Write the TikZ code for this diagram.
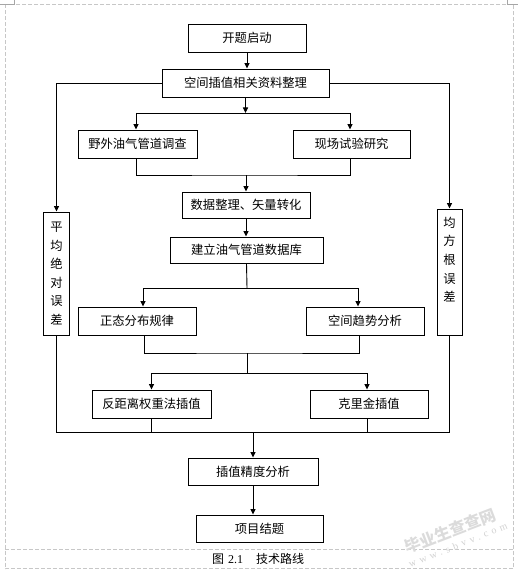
\documentclass[tikz,border=0pt]{standalone}
\usepackage{fontspec}
\setmainfont{Liberation Serif}
\newfontfamily\cjk{Noto Sans CJK SC}
\newfontfamily\wmfont[LetterSpace=40]{Liberation Serif}
\usetikzlibrary{arrows.meta}
\begin{document}
\begin{tikzpicture}[x=1pt,y=-1pt,
  box/.style={draw=black,line width=0.9pt,rectangle,inner sep=0pt,font=\cjk\fontsize{12.3}{14}\selectfont},
  vbox/.style={draw=black,line width=0.9pt,rectangle,inner sep=0pt,align=center,font=\cjk\fontsize{12.3}{18.6}\selectfont},
  vtext/.style={inner sep=0pt,align=center,font=\cjk\fontsize{12.3}{18.7}\selectfont},
  conn/.style={line width=0.9pt},
  arr/.style={line width=0.9pt,-{Triangle[length=5.5pt,width=5pt]}},
  frame/.style={draw=black!22,line width=0.7pt,dash pattern=on 4pt off 2pt},
]
\useasboundingbox (0,0) rectangle (518,575);

% page frame
\draw[frame] (5,4.5) rectangle (513.5,568.5);
\draw[frame] (5,549.5) -- (513.5,549.5);
\draw[black!35,line width=0.7pt] (0,4.5) -- (14,4.5) -- (14,0);
\draw[black!35,line width=0.7pt] (518,4.5) -- (507,4.5) -- (507,0);

% watermark
\node[rotate=21,text=black!14,font=\cjk\bfseries\fontsize{16}{16}\selectfont] (wm1) at (450,531) {毕业生查查网};
\node[rotate=22,text=black!18,font=\wmfont\fontsize{10}{10}\selectfont] (wm2) at (458,545) {www.sbvv.com};

% boxes
\node[box,minimum width=118pt,minimum height=28pt] (start) at (247,38) {开题启动};
\node[box,minimum width=167pt,minimum height=28pt] (org) at (245.5,83) {空间插值相关资料整理};
\node[box,minimum width=119pt,minimum height=28pt] (field) at (137.5,144) {野外油气管道调查};
\node[box,minimum width=117pt,minimum height=28pt] (test) at (351.5,144) {现场试验研究};
\node[box,minimum width=128pt,minimum height=26pt] (data) at (246,205) {数据整理、矢量转化};
\node[box,minimum width=153pt,minimum height=26pt] (db) at (246.5,250) {建立油气管道数据库};
\node[box,minimum width=118pt,minimum height=28pt] (normal) at (137,321) {正态分布规律};
\node[box,minimum width=118pt,minimum height=28pt] (trend) at (365,321) {空间趋势分析};
\node[box,minimum width=119pt,minimum height=28pt] (idw) at (151.5,404) {反距离权重法插值};
\node[box,minimum width=118pt,minimum height=28pt] (krig) at (369,404) {克里金插值};
\node[box,minimum width=130pt,minimum height=27pt] (acc) at (253,471.5) {插值精度分析};
\node[box,minimum width=127pt,minimum height=27pt] (end) at (259.5,528.5) {项目结题};
\node[vbox,minimum width=26pt,minimum height=123pt] (mae) at (56.5,273.5) {平\\均\\绝\\对\\误\\差};
\node[draw=black,line width=0.9pt,inner sep=0pt,minimum width=25pt,minimum height=126pt] (rms) at (449.5,272) {};
\node[vtext] (rmstext) at (449.5,259.5) {均\\方\\根\\误\\差};

% caption
\node[anchor=west,inner sep=0pt,font=\fontsize{12}{14}\selectfont] (cap) at (212,559) {{\cjk 图}\hspace{4pt}2.1\hspace{13pt}{\cjk 技术路线}};

% connectors
\draw[arr] (start.south) -- (start.south |- org.north);
\draw[arr] (org.west) -| (mae.north);
\draw[arr] (org.east) -| (rms.north);

\coordinate (j1) at (246,113);
\draw[arr] (org.south) -- (org.south |- j1);
\draw[conn] ([xshift=-1.5pt]field.north |- j1) -- ([xshift=-1.5pt]test.north |- j1);
\draw[arr] ([xshift=-1.5pt]field.north |- j1) -- ([xshift=-1.5pt]field.north);
\draw[arr] ([xshift=-1.5pt]test.north |- j1) -- ([xshift=-1.5pt]test.north);

\coordinate (j2) at (246,175);
\draw[conn] ([xshift=-1.5pt]field.south) |- (j2) -| ([xshift=-1.5pt]test.south);
\draw[arr] (j2) -- (j2 |- data.north);
\draw[arr] (data.south) -- (data.south |- db.north);

\coordinate (j3) at (247,288);
\draw[conn] (db.south) -- (j3);
\draw[conn] ([xshift=6pt]normal.north |- j3) -- ([xshift=-7pt]trend.north |- j3);
\draw[arr] ([xshift=6pt]normal.north |- j3) -- ([xshift=6pt]normal.north);
\draw[arr] ([xshift=-7pt]trend.north |- j3) -- ([xshift=-7pt]trend.north);

\coordinate (j4) at (247,353);
\draw[conn] ([xshift=7pt]normal.south) |- (j4) -| ([xshift=-6pt]trend.south);
\coordinate (j5) at (247,373);
\draw[conn] (j4) -- (j5);
\draw[conn] (idw.north |- j5) -- ([xshift=-2pt]krig.north |- j5);
\draw[arr] (idw.north |- j5) -- (idw.north);
\draw[arr] ([xshift=-2pt]krig.north |- j5) -- ([xshift=-2pt]krig.north);

\coordinate (j6) at (253,432);
\draw[conn] (mae.south) |- (rms.south |- j6) -- (rms.south);
\draw[conn] (idw.south) -- (idw.south |- j6);
\draw[conn] ([xshift=-2pt]krig.south) -- ([xshift=-2pt]krig.south |- j6);
\draw[arr] (j6) -- (acc.north);
\draw[arr] (acc.south) -- (acc.south |- end.north);
\end{tikzpicture}
\end{document}
